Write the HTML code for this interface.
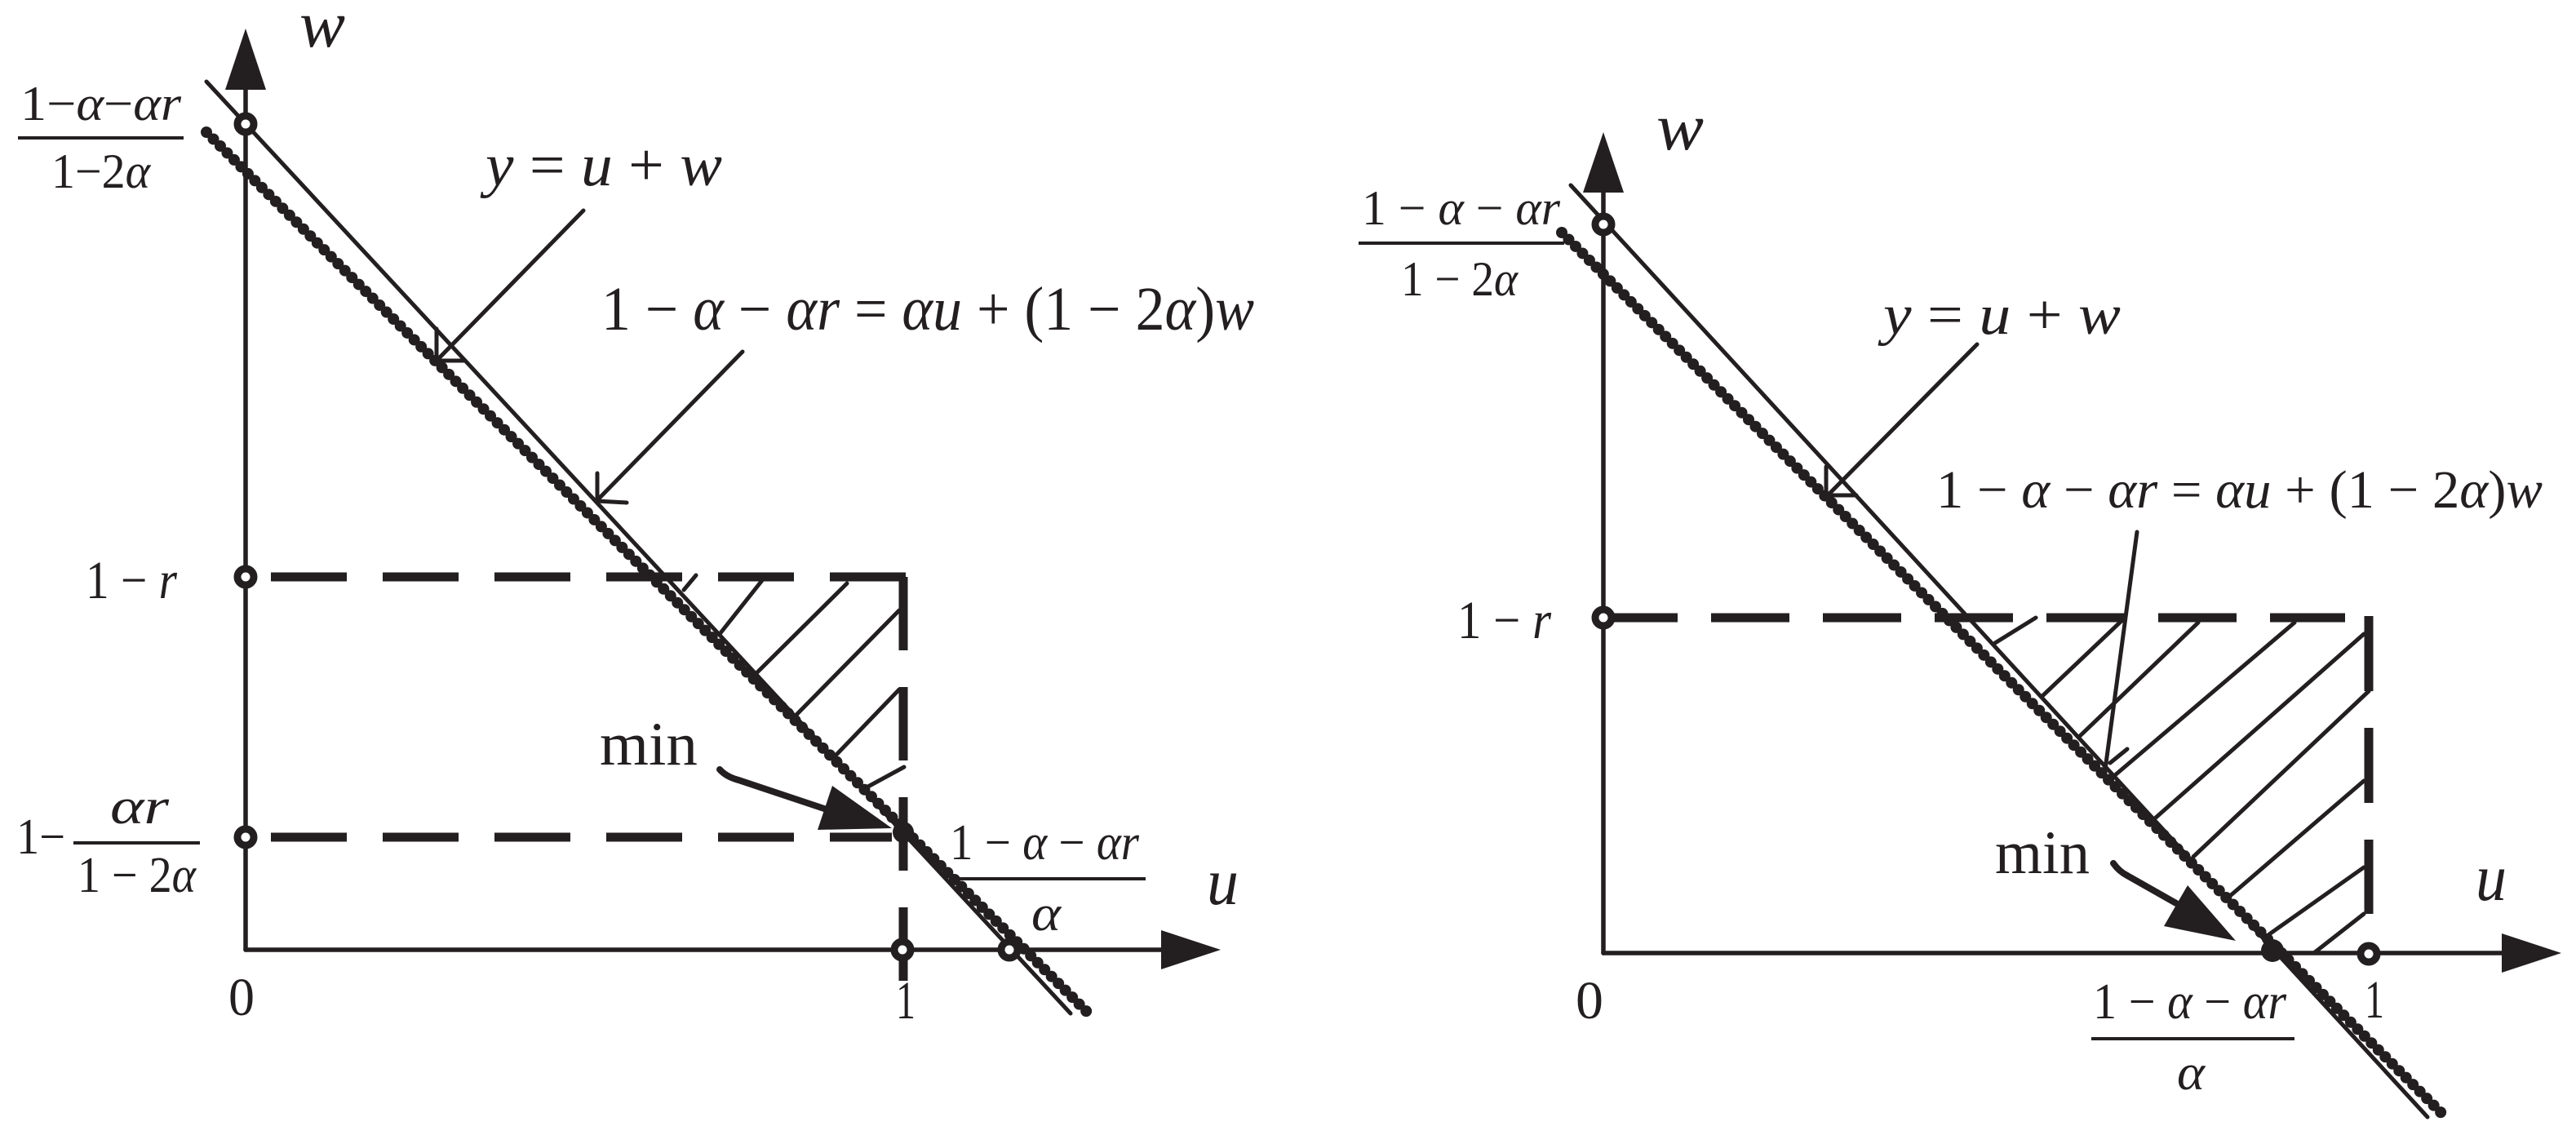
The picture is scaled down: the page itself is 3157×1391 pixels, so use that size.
<!DOCTYPE html>
<html><head><meta charset="utf-8"><style>
html,body{margin:0;padding:0;background:#fff}
svg{display:block}
text{font-family:"Liberation Serif","DejaVu Serif",serif;fill:#231f20}
.i{font-style:italic}
</style></head><body>
<svg width="3157" height="1391" viewBox="0 0 3157 1391" xmlns="http://www.w3.org/2000/svg">
<g stroke="#231f20" fill="none" stroke-linecap="round">
<!-- ===== LEFT ===== -->
<line x1="301" y1="1164" x2="301" y2="100" stroke-width="5.5"/>
<polygon points="301,35 276,110 326,110" fill="#231f20" stroke="none"/>
<line x1="301" y1="1164" x2="1430" y2="1164" stroke-width="5.5"/>
<polygon points="1496,1164 1423,1140 1423,1188" fill="#231f20" stroke="none"/>
<line x1="332" y1="707" x2="1110" y2="707" stroke-width="11" stroke-dasharray="93 44" stroke-linecap="butt"/>
<line x1="332" y1="1026" x2="1093" y2="1026" stroke-width="11" stroke-dasharray="93 44" stroke-linecap="butt"/>
<line x1="1107" y1="707" x2="1107" y2="1202" stroke-width="11" stroke-dasharray="90 45" stroke-linecap="butt"/>
<g stroke-width="5">
<line x1="853" y1="705" x2="838" y2="723"/>
<line x1="935" y1="710" x2="882" y2="777"/>
<line x1="1038" y1="715" x2="927" y2="825"/>
<line x1="1102" y1="748" x2="975" y2="877"/>
<line x1="1102" y1="845" x2="1023" y2="927"/>
<line x1="1108" y1="940" x2="1062" y2="965"/>
</g>
<line x1="253" y1="100" x2="1312" y2="1242" stroke-width="5"/>
<line x1="253" y1="162" x2="1332" y2="1240" stroke-width="7"/>
<line x1="253" y1="162" x2="1332" y2="1240" stroke-width="14" stroke-dasharray="0 12"/>
<line x1="715" y1="258" x2="535" y2="442" stroke-width="5"/>
<polyline points="535,403 535,442 570,442" stroke-width="5"/>
<line x1="910" y1="431" x2="732" y2="613" stroke-width="5"/>
<polyline points="732,580 732,614 768,616" stroke-width="5"/>
<path d="M882,943 Q890,952 905,956 L1013,992" stroke-width="8"/>
<polygon points="1020,963 1002,1017 1093,1015" fill="#231f20" stroke="none"/>
<g stroke-width="9" fill="#fff">
<circle cx="301" cy="152" r="10"/>
<circle cx="301" cy="707" r="10"/>
<circle cx="301" cy="1026" r="10"/>
<circle cx="1106" cy="1164" r="10"/>
<circle cx="1237" cy="1164" r="10"/>
</g>
<circle cx="1107" cy="1020" r="13" fill="#231f20" stroke="none"/>
<line x1="22" y1="169" x2="225" y2="169" stroke-width="4" stroke-linecap="butt"/>
<line x1="90" y1="1033" x2="245" y2="1033" stroke-width="4" stroke-linecap="butt"/>
<line x1="1175" y1="1077" x2="1404" y2="1077" stroke-width="4" stroke-linecap="butt"/>

<!-- ===== RIGHT ===== -->
<line x1="1965" y1="1168" x2="1965" y2="225" stroke-width="5.5"/>
<polygon points="1965,162 1940,236 1990,236" fill="#231f20" stroke="none"/>
<line x1="1965" y1="1168" x2="3070" y2="1168" stroke-width="5.5"/>
<polygon points="3139,1168 3066,1144 3066,1192" fill="#231f20" stroke="none"/>
<line x1="1960" y1="757" x2="2874" y2="757" stroke-width="11" stroke-dasharray="96 41" stroke-linecap="butt"/>
<line x1="2903" y1="755" x2="2903" y2="1120" stroke-width="11" stroke-dasharray="92 45" stroke-linecap="butt"/>
<g stroke-width="5">
<line x1="2495" y1="757" x2="2445" y2="788"/>
<line x1="2601" y1="760" x2="2503" y2="853"/>
<line x1="2694" y1="763" x2="2549" y2="902"/>
<line x1="2812" y1="763" x2="2592" y2="950"/>
<line x1="2897" y1="777" x2="2642" y2="1002"/>
<line x1="2903" y1="847" x2="2688" y2="1050"/>
<line x1="2897" y1="957" x2="2733" y2="1098"/>
<line x1="2897" y1="1063" x2="2781" y2="1145"/>
<line x1="2897" y1="1120" x2="2837" y2="1167"/>
</g>
<line x1="1925" y1="227" x2="2975" y2="1369" stroke-width="5"/>
<line x1="1914" y1="285" x2="2993" y2="1365" stroke-width="7"/>
<line x1="1914" y1="285" x2="2993" y2="1365" stroke-width="14" stroke-dasharray="0 12"/>
<line x1="2423" y1="422" x2="2240" y2="607" stroke-width="5"/>
<polyline points="2238,572 2238,607 2275,607" stroke-width="5"/>
<line x1="2619" y1="652" x2="2580" y2="943" stroke-width="5"/>
<line x1="2607" y1="918" x2="2586" y2="935" stroke-width="5"/>
<path d="M2590,1058 Q2597,1068 2607,1073 L2667,1107" stroke-width="8"/>
<polygon points="2681,1085 2652,1135 2740,1153" fill="#231f20" stroke="none"/>
<g stroke-width="9" fill="#fff">
<circle cx="1965" cy="275" r="10"/>
<circle cx="1965" cy="757" r="10"/>
<circle cx="2903" cy="1169" r="10"/>
</g>
<circle cx="2785" cy="1165" r="14" fill="#231f20" stroke="none"/>
<line x1="1665" y1="298" x2="1917" y2="298" stroke-width="4" stroke-linecap="butt"/>
<line x1="2563" y1="1273" x2="2812" y2="1273" stroke-width="4" stroke-linecap="butt"/>
</g>

<text x="367" y="57" font-size="82" class="i" textLength="56" lengthAdjust="spacingAndGlyphs">w</text>
<text x="1479" y="1108" font-size="82" class="i" textLength="39" lengthAdjust="spacingAndGlyphs">u</text>
<text x="25" y="147" font-size="60" textLength="197" lengthAdjust="spacingAndGlyphs">1−<tspan class="i">α</tspan>−<tspan class="i">αr</tspan></text>
<text x="63" y="230" font-size="60" textLength="121" lengthAdjust="spacingAndGlyphs">1−2<tspan class="i">α</tspan></text>
<text x="595" y="227" font-size="74" textLength="290" lengthAdjust="spacingAndGlyphs"><tspan class="i">y</tspan> = <tspan class="i">u</tspan> + <tspan class="i">w</tspan></text>
<text x="737" y="404" font-size="76" textLength="800" lengthAdjust="spacingAndGlyphs">1 − <tspan class="i">α</tspan> − <tspan class="i">αr</tspan> = <tspan class="i">αu</tspan> + (1 − 2<tspan class="i">α</tspan>)<tspan class="i">w</tspan></text>
<text x="105" y="733" font-size="66" textLength="112" lengthAdjust="spacingAndGlyphs">1 − <tspan class="i">r</tspan></text>
<text x="20" y="1046" font-size="62" textLength="60" lengthAdjust="spacingAndGlyphs">1−</text>
<text x="135" y="1009" font-size="62" class="i" textLength="72" lengthAdjust="spacingAndGlyphs">αr</text>
<text x="95" y="1093" font-size="62" textLength="145" lengthAdjust="spacingAndGlyphs">1 − 2<tspan class="i">α</tspan></text>
<text x="735" y="937" font-size="75" textLength="120" lengthAdjust="spacingAndGlyphs">min</text>
<text x="1164" y="1053" font-size="62" textLength="232" lengthAdjust="spacingAndGlyphs">1 − <tspan class="i">α</tspan> − <tspan class="i">αr</tspan></text>
<text x="1264" y="1140" font-size="62" class="i" textLength="36" lengthAdjust="spacingAndGlyphs">α</text>
<text x="280" y="1244" font-size="66" textLength="32" lengthAdjust="spacingAndGlyphs">0</text>
<text x="1098" y="1248" font-size="66" textLength="24" lengthAdjust="spacingAndGlyphs">1</text>

<text x="2030" y="183" font-size="82" class="i" textLength="58" lengthAdjust="spacingAndGlyphs">w</text>
<text x="3034" y="1103" font-size="82" class="i" textLength="38" lengthAdjust="spacingAndGlyphs">u</text>
<text x="1669" y="275" font-size="60" textLength="243" lengthAdjust="spacingAndGlyphs">1 − <tspan class="i">α</tspan> − <tspan class="i">αr</tspan></text>
<text x="1717" y="362" font-size="60" textLength="143" lengthAdjust="spacingAndGlyphs">1 − 2<tspan class="i">α</tspan></text>
<text x="2308" y="409" font-size="70" textLength="291" lengthAdjust="spacingAndGlyphs"><tspan class="i">y</tspan> = <tspan class="i">u</tspan> + <tspan class="i">w</tspan></text>
<text x="2373" y="622" font-size="66" textLength="743" lengthAdjust="spacingAndGlyphs">1 − <tspan class="i">α</tspan> − <tspan class="i">αr</tspan> = <tspan class="i">αu</tspan> + (1 − 2<tspan class="i">α</tspan>)<tspan class="i">w</tspan></text>
<text x="1786" y="782" font-size="66" textLength="115" lengthAdjust="spacingAndGlyphs">1 − <tspan class="i">r</tspan></text>
<text x="2445" y="1070" font-size="75" textLength="116" lengthAdjust="spacingAndGlyphs">min</text>
<text x="2565" y="1248" font-size="62" textLength="237" lengthAdjust="spacingAndGlyphs">1 − <tspan class="i">α</tspan> − <tspan class="i">αr</tspan></text>
<text x="2668" y="1335" font-size="62" class="i" textLength="34" lengthAdjust="spacingAndGlyphs">α</text>
<text x="1931" y="1248" font-size="66" textLength="34" lengthAdjust="spacingAndGlyphs">0</text>
<text x="2898" y="1247" font-size="66" textLength="24" lengthAdjust="spacingAndGlyphs">1</text>
</svg>
</body></html>
